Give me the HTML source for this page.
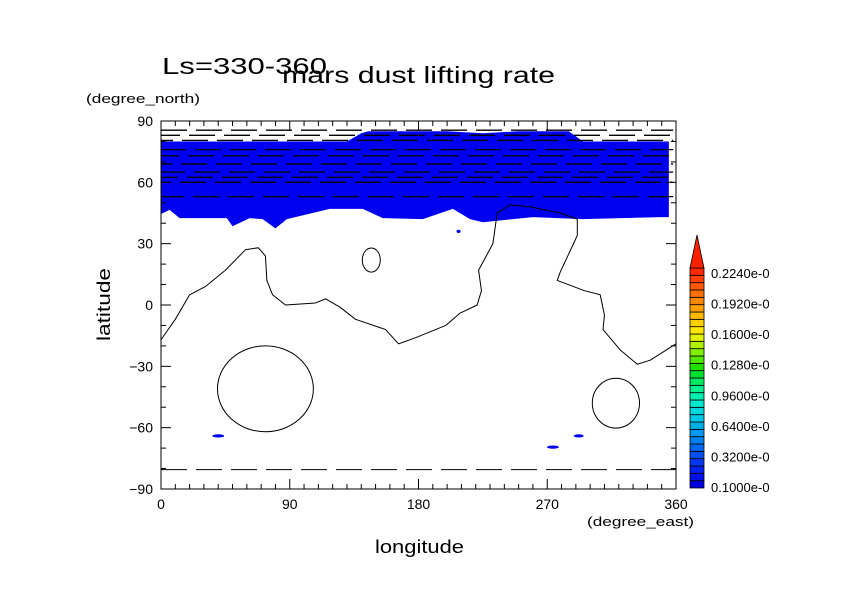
<!DOCTYPE html>
<html><head><meta charset="utf-8"><style>
html,body{margin:0;padding:0;background:#fff;}
svg{display:block;font-family:"Liberation Sans",sans-serif;}
</style></head><body>
<svg id="chart" width="842" height="595" viewBox="0 0 842 595" xmlns="http://www.w3.org/2000/svg">
<rect x="0" y="0" width="842" height="595" fill="#fff"/>
<text x="162" y="74" font-size="23" fill="#000" textLength="165" lengthAdjust="spacingAndGlyphs">Ls=330-360</text>
<text x="282" y="83" font-size="23" fill="#000" textLength="273" lengthAdjust="spacingAndGlyphs">mars dust lifting rate</text>
<text x="86" y="103" font-size="13" fill="#000" textLength="114" lengthAdjust="spacingAndGlyphs">(degree_north)</text>
<text x="587" y="526" font-size="13" fill="#000" textLength="107" lengthAdjust="spacingAndGlyphs">(degree_east)</text>
<text x="375" y="553" font-size="18" fill="#000" textLength="89" lengthAdjust="spacingAndGlyphs">longitude</text>
<text transform="translate(110,341) rotate(-90)" font-size="18" fill="#000" textLength="73" lengthAdjust="spacingAndGlyphs">latitude</text>
<g id="plot"></g>
<g id="cbar"></g>
</svg>
<script>
const xTicks=[0,90,180,270,360];
const yTicks=[-90,-60,-30,0,30,60,90];
// blue shaded region (dust lifting > 0.1), lon/lat boundary
const topLon=[0,130,140,145,200,225,250,285,295,355];
const topLat=[80,80,84,85,85,84,85,85,80,80];
const botLon=[355,350,295,260,225,216,204,183,155,141,118,88,80,71,62,50,46,13,6,0];
const botLat=[43,43,42,43,40.5,42,47,42,42.5,47,47,42,37.5,42,42.5,38.5,42.5,42.5,46.5,44.5];
const dashLats=[85.5,83,80.5,76,73,69,65,62.5,60,53];
const bottomDashLat=-80.5;
// contour lines
const mainLon=[0,10,20,31,45,59,68,73,74,78,87,108,115,125,136,157,166,178,199,209,221,224,222,232,235,244,258,279,291,291,279,277,296,307,310,309,321,333,342,360];
const mainLat=[-17,-7,5,9,17,27,28,24,12,5,0,1,3,-1,-7,-12,-19,-16,-10,-4,0,7,17,30,45,49,48,45,42,34,16,12,7,5,-5,-12,-22,-29,-27,-19];
const loopCLon=[73,318,147];
const loopCLat=[-41,-48,22];
const loopRLon=[33.5,16.5,6.3];
const loopRLat=[21,12.2,5.9];
const blobLon=[40,274,292,208];
const blobLat=[-64,-69.5,-64,36];
const blobW=[5,5,4,1];
// colorbar
const cbLabels=["0.1000e-0","0.3200e-0","0.6400e-0","0.9600e-0","0.1280e-0","0.1600e-0","0.1920e-0","0.2240e-0"];
const cbColors=["#0000e0","#0010e8","#0020f0","#0038f0","#0050f0","#0068f0","#0080f0","#0098f0","#00b0e8","#00c8e8","#00d8e0","#00e8d0","#00f0b0","#00f090","#00e860","#00e030","#20e000","#50e800","#80f000","#b0f000","#e0f000","#ffe800","#ffd000","#ffb800","#ffa000","#ff8800","#ff7000","#ff5800","#ff4000","#ff2800"];
const X0=161,X1=676,Y0=121,Y1=489;
const sx=lon=>X0+(lon/360)*(X1-X0);
const sy=lat=>Y0+((90-lat)/180)*(Y1-Y0);
const NS="http://www.w3.org/2000/svg";
function mk(tag,attrs,parent){const e=document.createElementNS(NS,tag);for(const k in attrs)e.setAttribute(k,attrs[k]);parent.appendChild(e);return e;}
const plot=document.getElementById('plot');
let pts=[];
for(let i=0;i<topLon.length;i++)pts.push(sx(topLon[i])+','+sy(topLat[i]));
for(let i=0;i<botLon.length;i++)pts.push(sx(botLon[i])+','+sy(botLat[i]));
const reg=mk('polygon',{points:pts.join(' '),fill:'#0000f0'},plot);


dashLats.forEach((la,i)=>{
  const l=mk('line',{x1:sx(0),x2:sx(358),y1:sy(la),y2:sy(la),stroke:'#000','stroke-width':1.3,'stroke-dasharray':'26 9','stroke-dashoffset':(i*7)%20},plot);
  
  
});
const bd=mk('line',{x1:sx(0),x2:sx(360),y1:sy(bottomDashLat),y2:sy(bottomDashLat),stroke:'#000','stroke-width':1,'stroke-dasharray':'26 9'},plot);


let d='';
for(let i=0;i<mainLon.length;i++)d+=(i?'L':'M')+sx(mainLon[i])+' '+sy(mainLat[i]);
const mc=mk('path',{d:d,fill:'none',stroke:'#000','stroke-width':1,'stroke-linejoin':'round'},plot);


for(let i=0;i<loopCLon.length;i++){
  const e=mk('ellipse',{cx:sx(loopCLon[i]),cy:sy(loopCLat[i]),rx:loopRLon[i]/360*(X1-X0),ry:loopRLat[i]/180*(Y1-Y0),fill:'none',stroke:'#000','stroke-width':1},plot);
  
  
}
for(let i=0;i<blobLon.length;i++){
  const e=mk('ellipse',{cx:sx(blobLon[i]),cy:sy(blobLat[i]),rx:blobW[i]+1,ry:1.6,fill:'#0000f0'},plot);
  
  
}
const fr=mk('rect',{x:X0,y:Y0,width:X1-X0,height:Y1-Y0,fill:'none',stroke:'#000','stroke-width':1},plot);


for(let lon=0;lon<=360;lon+=10){
  const major=lon%90===0, L=major?10:5;
  mk('line',{x1:sx(lon),x2:sx(lon),y1:Y1,y2:Y1-L,stroke:'#000'},plot);
  mk('line',{x1:sx(lon),x2:sx(lon),y1:Y0,y2:Y0+L,stroke:'#000'},plot);
}
for(let lat=-90;lat<=90;lat+=10){
  const major=lat%30===0, L=major?10:5;
  mk('line',{x1:X0,x2:X0+L,y1:sy(lat),y2:sy(lat),stroke:'#000'},plot);
  mk('line',{x1:X1,x2:X1-L,y1:sy(lat),y2:sy(lat),stroke:'#000'},plot);
}
xTicks.forEach(v=>{
  const t=mk('text',{x:sx(v),y:Y1+20,'font-size':14,'text-anchor':'middle',fill:'#000'},plot);
  t.textContent=String(v);
  
  
});
yTicks.forEach(v=>{
  const t=mk('text',{x:X0-8,y:sy(v)+5,'font-size':14,'text-anchor':'end',fill:'#000'},plot);
  t.textContent=v<0?'\u2212'+Math.abs(v):String(v);
  
  
});
const cb=document.getElementById('cbar');
const CX=690,CW=14,CB=488,CT=268;
const bh=(CB-CT)/cbColors.length;
cbColors.forEach((c,i)=>{
  const r=mk('rect',{x:CX,y:CB-(i+1)*bh,width:CW,height:bh,fill:c,stroke:'#000','stroke-width':0.8},cb);
  
  
});
const tri=mk('polygon',{points:`${CX},${CT} ${CX+CW},${CT} ${CX+CW/2},${CT-33}`,fill:'#ff2000',stroke:'#000','stroke-width':0.8},cb);


const lblStep=(488-274)/(cbLabels.length-1);
cbLabels.forEach((s,i)=>{
  const t=mk('text',{x:711,y:492-i*lblStep,'font-size':13,fill:'#000'},cb);
  t.textContent=s;
  
  
});
</script>
</body></html>
